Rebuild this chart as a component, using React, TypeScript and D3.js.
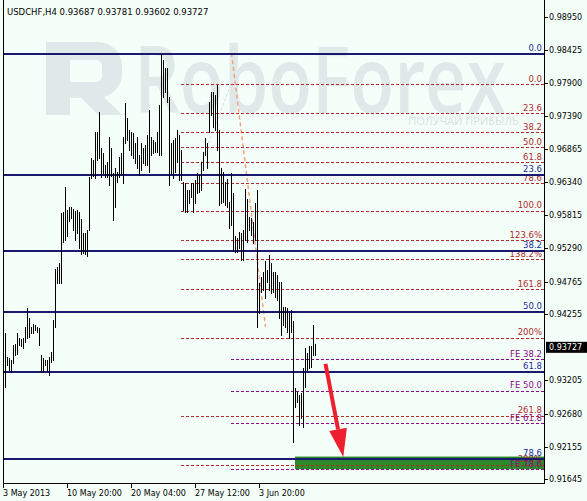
import * as d3 from "d3";

// chart data
const symbol = "USDCHF,H4";
const ohlc = ["0.93687", "0.93781", "0.93602", "0.93727"];
const lastPrice = 0.93727;

const highs = [
  0.93975, 0.9395, 0.9358, 0.93554, 0.93527, 0.93765, 0.9378, 0.9395, 0.93871, 0.93855,
  0.93871, 0.94054, 0.94345, 0.94187, 0.94054, 0.94097, 0.94081, 0.94054, 0.94029, 0.93607,
  0.93554, 0.93527, 0.93527, 0.9358, 0.93649, 0.9416, 0.94961, 0.95003, 0.95056, 0.95856,
  0.95872, 0.96267, 0.95899, 0.95951, 0.95942, 0.9591, 0.95888, 0.95899, 0.95872, 0.95752,
  0.95531, 0.9554, 0.95583, 0.96425, 0.96716, 0.96689, 0.97137, 0.97137, 0.97453, 0.96874,
  0.96795, 0.9661, 0.96663, 0.97053, 0.96879, 0.96479, 0.96558, 0.96504, 0.96742, 0.96795,
  0.97058, 0.97595, 0.97349, 0.97164, 0.97137, 0.97112, 0.96953, 0.97058, 0.96769, 0.96953,
  0.96874, 0.96927, 0.97085, 0.9748, 0.97058, 0.97006, 0.96979, 0.97137, 0.97559, 0.98365,
  0.9827, 0.98139, 0.98139, 0.9769, 0.96953, 0.97006, 0.97033, 0.97164, 0.97085, 0.96848,
  0.96346, 0.96321, 0.96215, 0.96215, 0.96321, 0.96321, 0.96373, 0.96479, 0.96452, 0.96663,
  0.96821, 0.97033, 0.96953, 0.97611, 0.97769, 0.97769, 0.97717, 0.97875, 0.97164, 0.96558,
  0.96504, 0.96346, 0.96384, 0.9603, 0.96479, 0.96163, 0.95488, 0.95452, 0.95556, 0.95531,
  0.95583, 0.96226, 0.96068, 0.95793, 0.95768, 0.95714, 0.96014, 0.96215, 0.9474, 0.94844,
  0.94923, 0.95093, 0.9495, 0.95188, 0.95056, 0.94923, 0.94923, 0.94871, 0.94765, 0.94756,
  0.9437, 0.9437, 0.94345, 0.94266, 0.94318, 0.94144, 0.9308, 0.93026, 0.92974, 0.93001,
  0.93396, 0.93712, 0.93633, 0.93749, 0.93749, 0.94081, 0.93781,
];

const lows = [
  0.93001, 0.93096, 0.93448, 0.93369, 0.93342, 0.93475, 0.93607, 0.93622, 0.93765, 0.93749,
  0.93712, 0.93817, 0.93871, 0.93896, 0.9395, 0.9395, 0.94002, 0.93975, 0.93765, 0.93342,
  0.93342, 0.93448, 0.93369, 0.9329, 0.935, 0.93527, 0.94054, 0.9474, 0.9474, 0.9474,
  0.95398, 0.95425, 0.95488, 0.9573, 0.95768, 0.95583, 0.95425, 0.95531, 0.95293, 0.95203,
  0.95214, 0.95203, 0.95172, 0.95583, 0.964, 0.96436, 0.964, 0.96689, 0.96716, 0.96425,
  0.96479, 0.96425, 0.96425, 0.96294, 0.96436, 0.95741, 0.95951, 0.96346, 0.96425, 0.96452,
  0.96321, 0.96953, 0.97006, 0.96848, 0.96769, 0.96716, 0.96637, 0.96558, 0.96452, 0.96531,
  0.96637, 0.9661, 0.9661, 0.96504, 0.96769, 0.96795, 0.96821, 0.96821, 0.96769, 0.96769,
  0.9769, 0.97769, 0.97611, 0.96294, 0.96479, 0.964, 0.96504, 0.96663, 0.96373, 0.96373,
  0.95899, 0.95872, 0.95872, 0.96005, 0.96109, 0.95872, 0.96005, 0.96163, 0.96188, 0.96215,
  0.96531, 0.96769, 0.96558, 0.97137, 0.97401, 0.97216, 0.97164, 0.96848, 0.95978, 0.96005,
  0.9603, 0.95978, 0.95942, 0.9561, 0.95662, 0.95267, 0.9524, 0.9524, 0.95293, 0.95108,
  0.95108, 0.95425, 0.95398, 0.95583, 0.95504, 0.95372, 0.95425, 0.94054, 0.94266, 0.94607,
  0.94634, 0.94503, 0.94765, 0.94634, 0.94582, 0.94607, 0.94528, 0.94476, 0.94187, 0.93923,
  0.94081, 0.94054, 0.93975, 0.93871, 0.93975, 0.92236, 0.92789, 0.92868, 0.925, 0.92606,
  0.92463, 0.93096, 0.93369, 0.93396, 0.93422, 0.93607, 0.93602,
];

const priceTicks = [
  0.9895, 0.98425, 0.979, 0.9739, 0.96865, 0.9634, 0.95815, 0.9529, 0.94765, 0.94255,
  0.93205, 0.9268, 0.92155, 0.91645,
];
const timeTickIndex = [0, 32, 64, 96, 128];
const timeTickLabels = ["3 May 2013", "10 May 20:00", "20 May 04:00", "27 May 12:00", "3 Jun 20:00"];

// big fibo retracement (navy, full width)
const blueLevels = [0.98365, 0.96452, 0.95251, 0.94286, 0.93338, 0.91962];
const blueLabels = ["0.0", "23.6", "38.2", "50.0", "61.8", "78.6"];

// second fibo (dashed red), starts at bar 89
const redStart = 89;
const redLevels = [
  0.97886, 0.97428, 0.97127, 0.9689, 0.96653, 0.96321, 0.95883, 0.9542, 0.9512, 0.94645,
  0.9388, 0.92642, 0.91867,
];
const redLabels = [
  "0.0", "23.6", "38.2", "50.0", "61.8", "78.6", "100.0", "123.6%", "138.2%", "161.8",
  "200%", "261.8", "300%",
];

// fibo expansion (dashed purple), starts at bar 114
const feStart = 114;
const feLevels = [0.93538, 0.93037, 0.92527, 0.91799];
const feLabels = ["FE 38.2", "FE 50.0", "FE 61.8", "FE 78.6"];

const trendLine = [[114.25, 0.98381], [131.25, 0.94049]];
const faintLine = [[96.5, 0.96436], [114, 0.97891]];
const targetZone = { from: 146, top: 0.92, bottom: 0.918 };
const arrow = [[161.25, 0.93464], [170.15, 0.91994]];

const W = 587;
const H = 501;
const left = 3;
const right = 544;
const bottom = 483;

export default function App() {
  const x = d3.scaleLinear().domain([0, 270.5]).range([left, right]);
  const y = d3.scaleLinear().domain([0.91645, 0.9895]).range([479, 17]);
  const font = "DejaVu Sans, Verdana, sans-serif";

  const labelX = right - 2;

  // arrow head
  const [ax0, ay0] = [x(arrow[0][0]), y(arrow[0][1])];
  const [ax1, ay1] = [x(arrow[1][0]), y(arrow[1][1])];
  const len = Math.hypot(ax1 - ax0, ay1 - ay0);
  const ux = (ax1 - ax0) / len;
  const uy = (ay1 - ay0) / len;
  const hl = 28;
  const hw = 9;
  const bx = ax1 - ux * hl;
  const by = ay1 - uy * hl;
  const head = `M${ax1},${ay1} L${bx - uy * hw},${by + ux * hw} L${bx + uy * hw},${by - ux * hw} Z`;

  return (
    <svg
      width={W}
      height={H}
      style={{ position: "absolute", left: 0, top: 0, display: "block", background: "#f5fffa" }}
      fontFamily={font}
    >
      <rect x={0} y={0} width={W} height={H} fill="#f5fffa" />

      {/* watermark */}
      <g fill="#dfe9e9">
        <path d="M46,42 h52 a24,24 0 0 1 24,24 v8 a24,24 0 0 1 -18,23 l18,18 h-24 l-17,-17 h-11 v17 h-24 z M70,60 v22 h26 a6,6 0 0 0 6,-6 v-10 a6,6 0 0 0 -6,-6 z" />
        <text x={134} y={113} fontSize={92} fontFamily="Open Sans, sans-serif" fontWeight={600} textLength={372} lengthAdjust="spacingAndGlyphs">
          RoboForex
        </text>
        <text x={519} y={125} fontSize={11} textAnchor="end" fontFamily="Open Sans, sans-serif" fill="#d5e2e2">
          ПОЛУЧАЙ ПРИБЫЛЬ
        </text>
      </g>

      {/* title */}
      <text x={7} y={15} fontSize={8.5} fill="#000">
        {symbol}  {ohlc.join(" ")}
      </text>

      {/* faint and trend lines */}
      <line
        x1={x(faintLine[0][0])} y1={y(faintLine[0][1])} x2={x(faintLine[1][0])} y2={y(faintLine[1][1])}
        stroke="#d3d8f2" strokeWidth={1} strokeDasharray="3,2"
      />
      <line
        x1={x(trendLine[0][0])} y1={y(trendLine[0][1])} x2={x(trendLine[1][0])} y2={y(trendLine[1][1])}
        stroke="#f5a27e" strokeWidth={1.5} strokeDasharray="4,3"
      />

      {/* target zone */}
      <rect
        x={x(targetZone.from)} y={y(targetZone.top)} width={right - x(targetZone.from)}
        height={y(targetZone.bottom) - y(targetZone.top)} fill="#2a8a2a"
      />

      {/* red fibo */}
      {redLevels.map((v, i) => (
        <g key={"r" + i}>
          <line x1={x(redStart)} x2={right} y1={Math.round(y(v)) + 0.5} y2={Math.round(y(v)) + 0.5} stroke="#b22a2a" strokeDasharray="3,2" />
          <text x={labelX} y={y(v) - 2.5} fontSize={8.5} fill="#b22a2a" textAnchor="end">{redLabels[i]}</text>
        </g>
      ))}

      {/* fibo expansion */}
      {feLevels.map((v, i) => (
        <g key={"f" + i}>
          <line x1={x(feStart)} x2={right} y1={Math.round(y(v)) + 0.5} y2={Math.round(y(v)) + 0.5} stroke="#8a0a8a" strokeDasharray="3,2" />
          <text x={labelX} y={y(v) - 2.5} fontSize={8.5} fill="#8a0a8a" textAnchor="end">{feLabels[i]}</text>
        </g>
      ))}

      {/* navy fibo */}
      {blueLevels.map((v, i) => (
        <g key={"b" + i}>
          <line x1={left} x2={right} y1={y(v)} y2={y(v)} stroke="#191970" strokeWidth={2} />
          <text x={labelX} y={y(v) - 3} fontSize={8.5} fill="#1f2a9a" textAnchor="end">{blueLabels[i]}</text>
        </g>
      ))}

      {/* bars */}
      {highs.map((h, i) => (
        <line
          key={"bar" + i}
          x1={Math.round(x(i)) + 0.5} x2={Math.round(x(i)) + 0.5}
          y1={Math.round(y(h))} y2={Math.round(y(lows[i])) + 1}
          stroke="#000" strokeWidth={1}
        />
      ))}

      {/* red arrow */}
      <line x1={ax0} y1={ay0} x2={bx} y2={by} stroke="#ee2030" strokeWidth={4} />
      <path d={head} fill="#ee2030" />

      {/* frame */}
      <line x1={left + 0.5} x2={left + 0.5} y1={0} y2={bottom} stroke="#000" />
      <line x1={right + 0.5} x2={right + 0.5} y1={0} y2={bottom + 1} stroke="#000" />
      <line x1={left} x2={right + 1} y1={bottom + 0.5} y2={bottom + 0.5} stroke="#000" />

      {/* price axis */}
      {priceTicks.map((t) => (
        <g key={"pt" + t}>
          <line x1={right} x2={right + 4} y1={Math.round(y(t)) + 0.5} y2={Math.round(y(t)) + 0.5} stroke="#000" />
          <text x={right + 5} y={y(t) + 3} fontSize={8} fill="#000">{t.toFixed(5)}</text>
        </g>
      ))}
      <rect x={right + 2} y={y(lastPrice) - 5.5} width={W - right - 2} height={11} fill="#000" />
      <text x={right + 5} y={y(lastPrice) + 3} fontSize={8} fill="#fff">{lastPrice.toFixed(5)}</text>

      {/* time axis */}
      {timeTickIndex.map((t, i) => (
        <g key={"tt" + t}>
          <line x1={Math.round(x(t)) + 0.5} x2={Math.round(x(t)) + 0.5} y1={bottom} y2={bottom + 5} stroke="#000" />
          <text x={Math.round(x(t))} y={bottom + 13} fontSize={8} fill="#000">{timeTickLabels[i]}</text>
        </g>
      ))}
    </svg>
  );
}
